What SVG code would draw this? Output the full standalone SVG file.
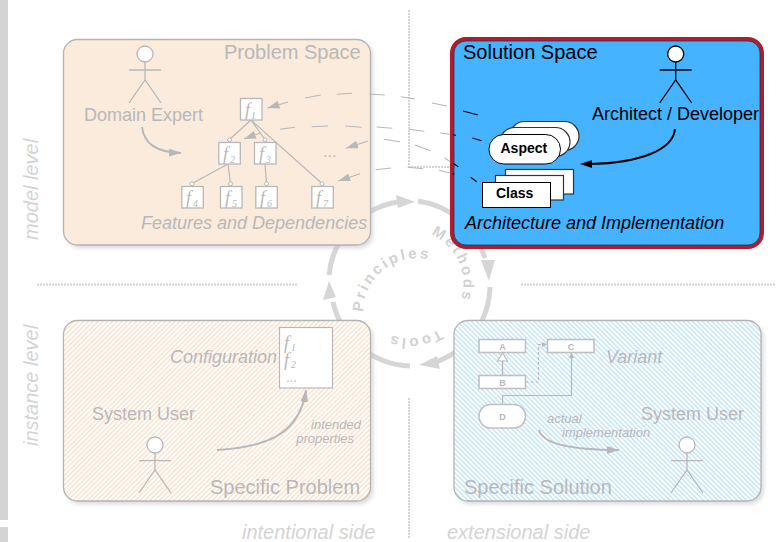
<svg xmlns="http://www.w3.org/2000/svg" width="776" height="542" viewBox="0 0 776 542">
<style>
text{font-family:"Liberation Sans",Arial,sans-serif}
.t{fill:#b8b8b8}
.k{fill:#000}
.s20{font-size:20px}
.s18{font-size:18px}
.i{font-style:italic}
.side{font-size:20px;font-style:italic;fill:#d4d4d4}
.panel{stroke:#b4b4b4;stroke-width:1.3}
.shadow{fill:#bbb;filter:url(#blur);opacity:.55}
.fig{fill:none;stroke:#b8b8b8;stroke-width:1.3}
.figk{fill:none;stroke:#000;stroke-width:1.3}
.head{fill:#fff}
.fb{fill:#fff;stroke:#b8b8b8;stroke-width:1.3}
.ft{font-family:"Liberation Serif",serif;font-style:italic;fill:#b8b8b8;font-size:18px}
.fs{font-family:"Liberation Serif",serif;font-style:italic;fill:#b8b8b8;font-size:10px}
.edge{fill:none;stroke:#b8b8b8;stroke-width:1.2}
.dot{fill:#fff;stroke:#b8b8b8;stroke-width:1}
.dash{fill:none;stroke:#b8b8b8;stroke-width:1.1}
.dashk{fill:none;stroke:#000;stroke-width:1.1}
.guide{fill:none;stroke:#d4d4d4;stroke-width:2;stroke-dasharray:2 1}
.ring{fill:none;stroke:#d6d6d6;stroke-width:5}
.ringh{fill:#d6d6d6}
.rt{font-size:15px;font-weight:bold;fill:#d2d2d2;letter-spacing:2.6px}
.big{fill:none;stroke:#b8b8b8;stroke-width:2}
.bigh{fill:#b8b8b8}
.um{fill:#fff;stroke:#c0c0c0;stroke-width:1.6}
.ut{font-size:9px;font-weight:bold;fill:#b8b8b8;text-anchor:middle}
.cl{fill:#fff;stroke:#000;stroke-width:1}
.cl2{fill:#fff;stroke:#333;stroke-width:1.2}
</style>
<defs>
<filter id="blur" x="-5%" y="-5%" width="110%" height="110%"><feGaussianBlur stdDeviation="2"/></filter>
<pattern id="hatchO" width="3.4" height="3.4" patternUnits="userSpaceOnUse" patternTransform="rotate(45)"><rect width="3.4" height="3.4" fill="#fff"/><rect width="1.5" height="3.4" fill="#fbe3cf"/></pattern>
<pattern id="hatchB" width="3.4" height="3.4" patternUnits="userSpaceOnUse" patternTransform="rotate(-45)"><rect width="3.4" height="3.4" fill="#fff"/><rect width="1.5" height="3.4" fill="#c4e6fb"/></pattern>
<marker id="ah" markerUnits="userSpaceOnUse" markerWidth="14" markerHeight="10" refX="12" refY="4" orient="auto"><path d="M0,0 L12,4 L0,8 Z" fill="#b8b8b8"/></marker>
<marker id="as" markerUnits="userSpaceOnUse" markerWidth="6" markerHeight="6" refX="5" refY="2.5" orient="auto"><path d="M0,0 L5,2.5 L0,5 Z" fill="#b8b8b8"/></marker>
<path id="pP" d="M363,312 A54,54 0 0 1 463,284"/>
<path id="pM" d="M431,234.500 A54,54 0 0 1 409,338"/>
<path id="pT" d="M439,329 A54,54 0 0 1 355,284"/>
</defs>
<rect width="776" height="542" fill="#fff"/>
<g id="sidebar"><rect x="0" y="0" width="8" height="520" fill="#d4d4d4"/><rect x="0" y="527" width="8" height="15" fill="#d4d4d4"/></g>
<g id="guides">
<path class="guide" d="M409,10 V167 H450"/>
<path class="guide" d="M409,398 V538"/>
<path class="guide" d="M37,284.500 H297"/>
<path class="guide" d="M521,284.500 H776"/>
</g>
<g id="cycle">
<path class="ring" d="M329,275 A82,82 0 0 1 398,202"/>
<path class="ringh" d="M415,201.700 L396,195 L398,208 Z"/>
<path class="ring" d="M418,201 A82,82 0 0 1 485,258"/>
<path class="ringh" d="M489,281 L495,260 L481,260 Z"/>
<path class="ring" d="M490,287 A82,82 0 0 1 436,362"/>
<path class="ringh" d="M419,365 L437,356 L440,369 Z"/>
<path class="ring" d="M410,366 A82,82 0 0 1 333,302"/>
<path class="ringh" d="M329,281 L323,300 L336,297 Z"/>
<text class="rt"><textPath href="#pP">Principles</textPath></text>
<text class="rt"><textPath href="#pM">Methods</textPath></text>
<text class="rt"><textPath href="#pT">Tools</textPath></text>
</g>
<g id="problem-space">
<rect class="shadow" x="66" y="42" width="307" height="206" rx="14"/>
<rect class="panel" x="63.500" y="39.500" width="307" height="205.500" rx="14" fill="#fbebdc"/>
<text class="t s20" x="224" y="59">Problem Space</text>
<text class="t s18" x="84" y="121">Domain Expert</text>
<text class="t s18 i" x="141" y="229">Features and Dependencies</text>
<circle class="fig head" cx="145" cy="54" r="8"/>
<path class="fig" d="M145,62 V80 M129,70 H161 M129,103 L145,80 L161,103"/>
</g>
<g id="feature-tree">
<path class="edge" d="M251,120 L229.500,139.500 M251,120 L265,139.500 M251,120 L322,183.500 M228,164 L192,183.500 M228,164 L230.500,183.500 M265,164 L266.500,183.500"/>
<circle class="dot" cx="229.500" cy="139.800" r="2"/><circle class="dot" cx="265" cy="139.800" r="2"/><circle class="dot" cx="192" cy="183.800" r="2"/><circle class="dot" cx="230.500" cy="183.800" r="2"/><circle class="dot" cx="266.500" cy="183.800" r="2"/><circle class="dot" cx="322" cy="183.800" r="2"/>
<g id="f1"><rect class="fb" x="240.500" y="98.500" width="21.500" height="21.500"/><text class="ft" x="245" y="116">f</text><text class="fs" x="251" y="119">1</text></g>
<g id="f2"><rect class="fb" x="218.800" y="142.500" width="21.500" height="21.500"/><text class="ft" x="223" y="160">f</text><text class="fs" x="230" y="163">2</text></g>
<g id="f3"><rect class="fb" x="254.500" y="142.500" width="21.500" height="21.500"/><text class="ft" x="259" y="160">f</text><text class="fs" x="266" y="163">3</text></g>
<g id="f4"><rect class="fb" x="181.800" y="186.500" width="21.500" height="21.500"/><text class="ft" x="186" y="204">f</text><text class="fs" x="193" y="207">4</text></g>
<g id="f5"><rect class="fb" x="220.500" y="186.500" width="21.500" height="21.500"/><text class="ft" x="225" y="204">f</text><text class="fs" x="232" y="207">5</text></g>
<g id="f6"><rect class="fb" x="255.800" y="186.500" width="21.500" height="21.500"/><text class="ft" x="260" y="204">f</text><text class="fs" x="267" y="207">6</text></g>
<g id="f7"><rect class="fb" x="311.800" y="186.500" width="21.500" height="21.500"/><text class="ft" x="316" y="204">f</text><text class="fs" x="323" y="207">7</text></g>
<text class="t" x="323" y="157" style="font-size:16px">...</text>
</g>
<g id="solution-space">
<rect x="452" y="39" width="310" height="208" rx="14" fill="#45b3ff" stroke="#b01c2e" stroke-width="4"/>
<rect x="454" y="41" width="306" height="204" rx="12" fill="none" stroke="#1a3a55" stroke-width=".8"/>
<text class="k s20" x="463" y="59">Solution Space</text>
<text class="k s18" x="592" y="120">Architect / Developer</text>
<text class="k s18 i" x="465" y="229">Architecture and Implementation</text>
<circle class="figk head" cx="675.700" cy="54" r="8"/>
<path class="figk" d="M675.700,62 V80 M659.700,70 H691.700 M659.700,103 L675.700,80 L691.700,103"/>
</g>
<g id="aspect">
<rect class="cl2" x="510" y="121.500" width="69" height="29" rx="14.500"/>
<rect class="cl2" x="500" y="127.500" width="70" height="29" rx="14.500"/>
<rect class="cl" x="489" y="134.500" width="71.500" height="29.500" rx="14.700"/>
<text x="500.500" y="153" style="font-size:14px;font-weight:bold">Aspect</text>
</g>
<g id="class">
<rect class="cl2" x="505.500" y="169.500" width="68" height="24.500"/>
<rect class="cl2" x="495.500" y="175.500" width="68" height="24.500"/>
<rect class="cl" x="482.500" y="182.500" width="68" height="25"/>
<text x="496" y="198" style="font-size:14px;font-weight:bold">Class</text>
</g>
<g id="connectors">
<path class="dash" d="M432,103 L447,106 M400.700,96.700 L415,99 M369,94 L384.700,95 M336.700,94.300 L352,93.300 M305,98 L320.700,95"/>
<path class="dash" marker-end="url(#ah)" d="M288,102 L267.500,108"/>
<path class="dashk" d="M463,111 L478,115"/>
<path class="dash" d="M280,129.300 L295,127.300 M311.700,126.700 L328,126 M345,126 L361.700,127.300 M376.700,127 L392.300,128.300 M409,129.300 L424.300,131.300 M440.300,133 L450,134.300"/>
<path class="dashk" d="M453,134.700 L456,135.200 M472.300,138 L481.700,140.700"/>
<path class="dash" marker-end="url(#ah)" d="M260,133 L244,139"/>
<path class="dash" d="M384,139.300 L400,141.700 M415,145 L430.700,150.700 M445,158.300 L450,161.500"/>
<path class="dashk" d="M453,163.300 L458.300,166.700 M470.700,177.300 L476.700,181.700"/>
<path class="dash" marker-end="url(#ah)" d="M368,141 L346,148.300"/>
<path class="dash" d="M375.700,169.700 L391,168 M407.700,167.300 L423.300,168.700 M439,170.300 L450,173"/>
<path class="dashk" d="M452.500,173.600 L454.300,174"/>
<path class="dash" marker-end="url(#ah)" d="M360,173.700 L338.300,181"/>
<path class="big" marker-end="url(#ah)" d="M142,127 C144,143 155,152 181,153"/>
<path fill="none" stroke="#000" stroke-width="2" d="M675,129 C673,150 640,163 590,164"/>
<path d="M580,164 L592,160 L592,168 Z"/>
</g>
<g id="specific-problem">
<rect class="shadow" x="66" y="323" width="307" height="181" rx="14"/>
<rect class="panel" x="63.500" y="320.500" width="307" height="180.500" rx="14" fill="url(#hatchO)"/>
<text class="t s20" x="210" y="494">Specific Problem</text>
<text class="t s18" x="92" y="420">System User</text>
<text class="t s18 i" x="170" y="363">Configuration</text>
<text class="t i" x="361" y="429" text-anchor="end" style="font-size:13px">intended</text>
<text class="t i" x="354" y="443" text-anchor="end" style="font-size:13px">properties</text>
<circle class="fig head" cx="155" cy="445" r="8"/>
<path class="fig" d="M155,453 V470 M139,460.700 H171 M139,493 L155,470 L171,493"/>
<g id="configuration">
<rect x="279.500" y="327.500" width="53" height="60.500" fill="#fff" stroke="#b8b8b8" stroke-width="1.2"/>
<text class="ft" x="284" y="349">f</text><text class="fs" x="291" y="351">1</text>
<text class="ft" x="284" y="366">f</text><text class="fs" x="291" y="368">2</text>
<text class="t" x="286" y="382" style="font-size:13px">...</text>
</g>
<path class="big" marker-end="url(#ah)" d="M217,450 C270,447 300,432 306,390"/>
</g>
<g id="specific-solution">
<rect class="shadow" x="456.500" y="323" width="307" height="181" rx="14"/>
<rect class="panel" x="454" y="320.500" width="307" height="180.500" rx="14" fill="url(#hatchB)"/>
<text class="t s20" x="464" y="494">Specific Solution</text>
<text class="t s18" x="641" y="420">System User</text>
<text class="t s18 i" x="606" y="363">Variant</text>
<text class="t i" x="547" y="423" style="font-size:13px">actual</text>
<text class="t i" x="562" y="437" style="font-size:13px">implementation</text>
<circle class="fig head" cx="687" cy="445" r="8"/>
<path class="fig" d="M687,453 V470 M671,460.700 H703 M671,493 L687,470 L703,493"/>
<g id="uml-a"><rect class="um" x="479" y="339.500" width="46.500" height="13"/><text class="ut" x="502.500" y="349.500">A</text></g>
<g id="uml-c"><rect class="um" x="547.500" y="339.500" width="46.500" height="13"/><text class="ut" x="571" y="349.500">C</text></g>
<g id="uml-b"><rect class="um" x="479" y="375.500" width="46.500" height="13"/><text class="ut" x="502.500" y="385.500">B</text></g>
<g id="uml-d"><rect class="um" x="479" y="404.500" width="46.500" height="23.500" rx="11.700"/><text class="ut" x="502.500" y="419.500">D</text></g>
<path class="edge" style="stroke-width:1.4" d="M502.500,375.500 V361"/>
<path fill="#fff" stroke="#b8b8b8" stroke-width="1.1" d="M502.500,353 L507.500,361 L497.500,361 Z"/>
<path class="edge" stroke-dasharray="3 2" marker-end="url(#as)" d="M525.500,382 H538.500 V344.500 H547"/>
<path class="edge" marker-end="url(#as)" d="M502.500,404 V395.500 H571.500 V353"/>
<path class="big" marker-end="url(#ah)" d="M539,430 C543,445 575,450 619,450"/>
</g>
<g id="axis-labels">
<text class="side" transform="translate(38,240) rotate(-90)">model level</text>
<text class="side" transform="translate(38,446) rotate(-90)">instance level</text>
<text class="side" x="242" y="539">intentional side</text>
<text class="side" x="447" y="539">extensional side</text>
</g>
</svg>
